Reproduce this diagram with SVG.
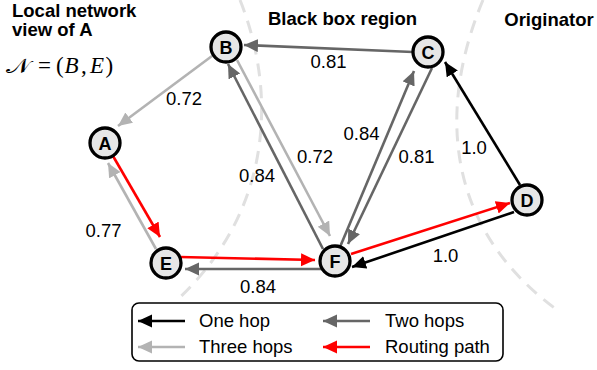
<svg xmlns="http://www.w3.org/2000/svg" width="597" height="370" viewBox="0 0 597 370">
  <style>
    .lbl { font-family: "Liberation Sans", Arial, sans-serif; font-size: 18.5px; fill: #000; }
    .ttl { font-family: "Liberation Sans", Arial, sans-serif; font-size: 18.5px; font-weight: bold; fill: #000; }
    .node circle { fill: #e6e6e6; stroke: #000; stroke-width: 3.3; }
    .node text { font-family: "Liberation Sans", Arial, sans-serif; font-size: 18px; font-weight: bold; text-anchor: middle; fill: #000; }
    .edge { fill: none; stroke-width: 2.6; }
    .k { stroke: #000; marker-end: url(#ak); }
    .d { stroke: #666; marker-end: url(#ad); }
    .l { stroke: #b3b3b3; marker-end: url(#al); }
    .r { stroke: #ff0000; marker-end: url(#ar); }
    .region { fill: none; stroke: #e0e0e0; stroke-width: 3; stroke-dasharray: 13 9; }
    .math { font-family: "Liberation Serif", "DejaVu Serif", serif; font-size: 23px; fill: #000; }
  </style>
  <defs>
    <marker id="ak" markerUnits="userSpaceOnUse" markerWidth="15" markerHeight="14" refX="14" refY="6.5" orient="auto"><path d="M0,0 L14,6.5 L0,13 z" fill="#000"/></marker>
    <marker id="ad" markerUnits="userSpaceOnUse" markerWidth="15" markerHeight="14" refX="14" refY="6.5" orient="auto"><path d="M0,0 L14,6.5 L0,13 z" fill="#666"/></marker>
    <marker id="al" markerUnits="userSpaceOnUse" markerWidth="15" markerHeight="14" refX="14" refY="6.5" orient="auto"><path d="M0,0 L14,6.5 L0,13 z" fill="#b3b3b3"/></marker>
    <marker id="ar" markerUnits="userSpaceOnUse" markerWidth="15" markerHeight="14" refX="14" refY="6.5" orient="auto"><path d="M0,0 L14,6.5 L0,13 z" fill="#ff0000"/></marker>
  </defs>

  <!-- region boundaries -->
  <g id="regions">
    <path class="region" d="M240,0 C276,90 275,210 175,302"/>
    <path class="region" d="M483,0 C437,110 445,230 560,312"/>
  </g>

  <!-- headings -->
  <g id="headings">
    <text class="ttl" x="12" y="17">Local network</text>
    <text class="ttl" x="12" y="36">view of A</text>
    <text class="ttl" x="342.5" y="25" text-anchor="middle">Black box region</text>
    <text class="ttl" x="549" y="26" text-anchor="middle">Originator</text>
  </g>

  <!-- neighbourhood definition -->
  <g id="formula" class="math">
    <text x="6" y="73" font-size="21" textLength="24" lengthAdjust="spacingAndGlyphs">𝒩</text>
    <text x="38" y="73">=</text>
    <text x="56" y="73">(</text>
    <text x="64.5" y="73" font-style="italic">B</text>
    <text x="81" y="73">,</text>
    <text x="90" y="73" font-style="italic">E</text>
    <text x="105.5" y="73">)</text>
  </g>

  <!-- connectors -->
  <g id="connectors">
    <path class="edge d" d="M413,52 L244,45"/>
    <path class="edge l" d="M212,56 L118,126"/>
    <path class="edge r" d="M113,156 L160,237"/>
    <path class="edge l" d="M156,249 L108,163"/>
    <path class="edge r" d="M180,257 L315,260"/>
    <path class="edge d" d="M324,269 L185,269"/>
    <path class="edge d" d="M323,249 L228,64"/>
    <path class="edge l" d="M237,60 L330,236"/>
    <path class="edge d" d="M340,247 L414,71"/>
    <path class="edge d" d="M432,68 L348,244"/>
    <path class="edge k" d="M520,185 L445,62"/>
    <path class="edge k" d="M514,212 L352,267"/>
    <path class="edge r" d="M351,254 L510,203"/>
  </g>

  <!-- connector weights -->
  <g id="weights" class="lbl" text-anchor="middle">
    <text x="328.5" y="68">0.81</text>
    <text x="184" y="105">0.72</text>
    <text x="103.5" y="237">0.77</text>
    <text x="257" y="182">0.84</text>
    <text x="315" y="163">0.72</text>
    <text x="361.5" y="140">0.84</text>
    <text x="416.5" y="163">0.81</text>
    <text x="474" y="154">1.0</text>
    <text x="445.5" y="262">1.0</text>
    <text x="258" y="293">0.84</text>
  </g>

  <!-- nodes -->
  <g id="node-A" class="node"><circle cx="105" cy="143" r="15"/><text x="105" y="149.5">A</text></g>
  <g id="node-B" class="node"><circle cx="226" cy="47" r="15"/><text x="226" y="53.5">B</text></g>
  <g id="node-C" class="node"><circle cx="428" cy="52" r="15"/><text x="428" y="58.5">C</text></g>
  <g id="node-D" class="node"><circle cx="527" cy="200" r="15"/><text x="527" y="206.5">D</text></g>
  <g id="node-E" class="node"><circle cx="166" cy="263" r="15"/><text x="166" y="269.5">E</text></g>
  <g id="node-F" class="node"><circle cx="335" cy="261" r="15"/><text x="335" y="267.5">F</text></g>

  <!-- legend -->
  <g id="legend">
    <rect x="132" y="303" width="371" height="58" rx="7" fill="#fff" stroke="#000" stroke-width="1.6"/>
    <path class="edge k" d="M185,321 L138,321"/>
    <path class="edge d" d="M370,321 L323,321"/>
    <path class="edge l" d="M185,347 L138,347"/>
    <path class="edge r" d="M370,347 L323,347"/>
    <text class="lbl" x="199" y="327">One hop</text>
    <text class="lbl" x="385" y="327">Two hops</text>
    <text class="lbl" x="199" y="353">Three hops</text>
    <text class="lbl" x="385" y="353">Routing path</text>
  </g>
</svg>
